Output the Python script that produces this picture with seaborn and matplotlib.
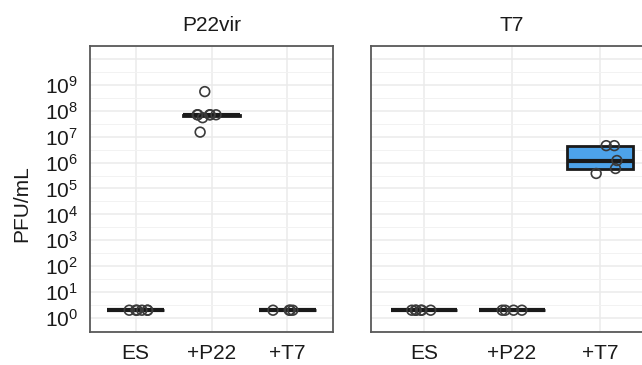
import numpy as np
import pandas as pd
import matplotlib
matplotlib.use("Agg")
import matplotlib.pyplot as plt
import matplotlib.ticker as mticker
import seaborn as sns

# PFU/mL (log scale)
conditions = ["ES", "+P22", "+T7"]
p22vir_es = [2, 2, 2, 2, 2, 2]
p22vir_p22 = [1.5e7, 5.4e7, 7e7, 7e7, 7e7, 7e7, 7e7, 5.5e8]
p22vir_t7 = [2, 2, 2, 2]
t7_es = [2, 2, 2, 2, 2, 2]
t7_p22 = [2, 2, 2, 2]
t7_t7 = [3.8e5, 5.9e5, 1.2e6, 4.5e6, 4.5e6]
panels = ["P22vir", "T7"]
panel_fill = {"P22vir": "white", "T7": "#4DA3EA"}

rows = []
for phage, groups in zip(panels, [[p22vir_es, p22vir_p22, p22vir_t7],
                                  [t7_es, t7_p22, t7_t7]]):
    for cond, vals in zip(conditions, groups):
        for v in vals:
            rows.append({"phage": phage, "condition": cond, "pfu": v})
df = pd.DataFrame(rows)

sns.set_style("white")
plt.rcParams["font.family"] = ["Liberation Sans", "DejaVu Sans"]
plt.rcParams["mathtext.default"] = "regular"

W, H = 642, 365
fig = plt.figure(figsize=(W / 100, H / 100), dpi=100)
# panel boxes in pixels: (left, top, right, bottom)
boxes = {"P22vir": (90, 46, 333, 332), "T7": (371, 46, 653, 332)}
fs = 15

np.random.seed(3)
for i, phage in enumerate(panels):
    l, t, r, b = boxes[phage]
    ax = fig.add_axes([l / W, (H - b) / H, (r - l) / W, (b - t) / H])
    sub = df[df["phage"] == phage]
    ax.set_yscale("log")
    sns.boxplot(data=sub, x="condition", y="pfu", order=conditions, ax=ax,
                color=panel_fill[phage], width=0.75, whis=0, showfliers=False,
                showcaps=False, linecolor="#1a1a1a", linewidth=2, saturation=1,
                medianprops={"linewidth": 3})
    sns.stripplot(data=sub, x="condition", y="pfu", order=conditions, ax=ax,
                  jitter=0.2, size=7, marker="o", facecolor="none",
                  edgecolor="#3a3a3a", linewidth=1.2, color="none")
    for c in ax.collections:
        c.set_facecolor("none")
        c.set_edgecolor("#3a3a3a")
    ax.set_xlim(-0.6, 2.6)
    ax.set_ylim(10 ** -0.54, 10 ** 10.5)
    ax.yaxis.set_minor_locator(mticker.FixedLocator([10.0 ** (k + 0.5) for k in range(-1, 11)]))
    ax.set_yticks([10.0 ** k for k in range(0, 10)])
    ax.grid(True, which="major", color="#ebebeb", linewidth=1.1)
    ax.grid(True, which="minor", axis="y", color="#f2f2f2", linewidth=0.7)
    ax.axhline(10.0 ** 10, color="#ebebeb", linewidth=1.1, zorder=0)
    ax.set_axisbelow(True)
    ax.tick_params(axis="both", which="major", length=5, width=1.2, color="#333333",
                   labelsize=fs, labelcolor="#1a1a1a", direction="out")
    ax.tick_params(axis="y", which="minor", length=0)
    if i == 0:
        ax.set_yticklabels([f"$10^{{{k}}}$" for k in range(0, 10)])
        ax.set_ylabel("PFU/mL", fontsize=fs, color="#1a1a1a", va="center")
        ax.yaxis.set_label_coords(-0.28, 0.45)
    else:
        ax.set_yticklabels([])
        ax.set_ylabel("")
    ax.set_xlabel("")
    ax.set_title(phage, fontsize=fs, color="#1a1a1a", pad=11)
    for s in ax.spines.values():
        s.set_visible(True)
        s.set_color("#595959")
        s.set_linewidth(1.3)

fig.savefig("out.png", dpi=100)
